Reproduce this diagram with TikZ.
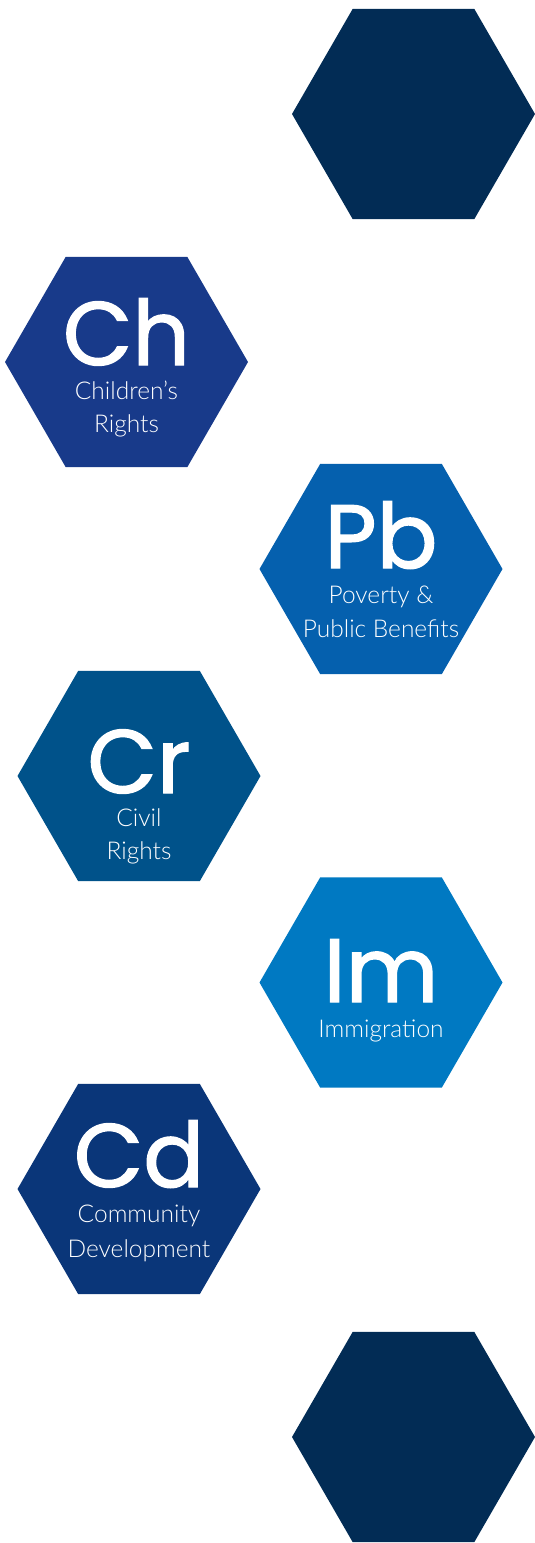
\documentclass[tikz,border=0pt]{standalone}
\usepackage{fontspec}
\setmainfont{Lato Light}
\newfontfamily\symfont{Poppins}[FakeBold=1.5]
\usetikzlibrary{shapes.geometric,calc}
\definecolor{navy}{HTML}{022C55}
\definecolor{chblue}{HTML}{183A8A}
\definecolor{pbblue}{HTML}{0560AE}
\definecolor{crblue}{HTML}{00528A}
\definecolor{imblue}{HTML}{0079C2}
\definecolor{cdblue}{HTML}{0A3679}
\tikzset{hex/.style={regular polygon,regular polygon sides=6,minimum size=243pt,inner sep=0pt,draw=none,fill=#1},
sym/.style={text=white,inner sep=0pt,anchor=base,font=\symfont\fontsize{90}{90}\selectfont},
topic/.style={text=white,inner sep=0pt,anchor=base,font=\fontsize{24.5}{30}\selectfont}}

\begin{document}
\begin{tikzpicture}[x=1pt,y=-1pt]
\useasboundingbox (0,0) rectangle (535,1543);
\node[hex=navy] (top) at (413.5,114) {};
\node[hex=chblue] (ch) at (126.5,362) {};
\node[hex=pbblue] (pb) at (381,569) {};
\node[hex=crblue] (cr) at (139,776) {};
\node[hex=imblue] (im) at (381,982.5) {};
\node[hex=cdblue] (cd) at (139,1189) {};
\node[hex=navy] (bottom) at (413.5,1437) {};
% Children's Rights
\node[sym] (chsym) at ($(ch)+(0,3)$) {Ch};
\node[topic] (chtxt) at ($(ch)+(0,37)$) {Children’s};
\node[topic] (chtxtb) at ($(ch)+(0,70)$) {Rights};
% Poverty
\node[sym] (pbsym) at ($(pb)+(0,-1)$) {Pb};
\node[topic] (pbtxt) at ($(pb)+(0,34)$) {Poverty \&};
\node[topic] (pbtxtb) at ($(pb)+(0,68)$) {Public Benefits};
% Civil Rights
\node[sym] (crsym) at ($(cr)+(0,17)$) {Cr};
\node[topic] (crtxt) at ($(cr)+(0,50)$) {Civil};
\node[topic] (crtxtb) at ($(cr)+(0,83)$) {Rights};
% Immigration
\node[sym] (imsym) at ($(im)+(0,19.5)$) {Im};
\node[topic] (imtxt) at ($(im)+(0,54.5)$) {Immigration};
% Community Development
\node[sym] (cdsym) at ($(cd)+(0,-2)$) {Cd};
\node[topic] (cdtxt) at ($(cd)+(0,33)$) {Community};
\node[topic] (cdtxtb) at ($(cd)+(0,68)$) {Development};
\end{tikzpicture}
\end{document}
